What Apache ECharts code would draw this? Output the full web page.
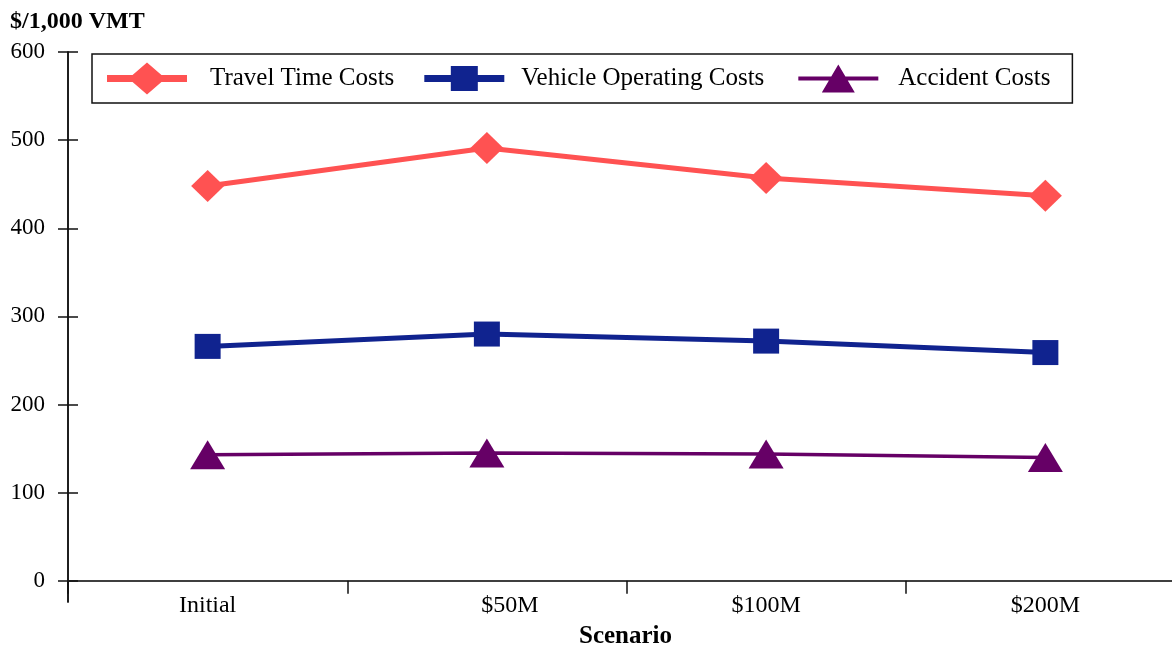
<!DOCTYPE html>
<html>
<head>
<meta charset="utf-8">
<script src="https://cdn.jsdelivr.net/npm/echarts@6/dist/echarts.min.js"></script>
<style>
  html, body { margin: 0; padding: 0; background: #fff; }
  #chart { width: 1172px; height: 647px; }
</style>
</head>
<body>
<div id="chart"></div>
<script>
// Cost per 1,000 vehicle-miles travelled, by funding scenario
const scenarios = ['Initial', '$50M', '$100M', '$200M'];
const travelTimeCosts = [448, 491, 457, 437];
const vehicleOperatingCosts = [266, 280, 272, 259];
const accidentCosts = [143, 145, 144, 140];
const yTickValues = [0, 100, 200, 300, 400, 500, 600];
const seriesNames = ['Travel Time Costs', 'Vehicle Operating Costs', 'Accident Costs'];

const SERIF = '"Liberation Serif", "DejaVu Serif", serif';
const AXIS_COLOR = '#111';

// Legend icons: a line with the series marker on it, drawn in an 80x32 box
const legendIcons = [
  'path://M0 12.5L80 12.5L80 19.5L0 19.5Z M21.5 16L40 0L58.5 16L40 32Z',
  'path://M0 0M80 32M0 12.5L80 12.5L80 19.5L0 19.5Z M26.5 3.5L53.5 3.5L53.5 28.5L26.5 28.5Z',
  'path://M0 0M80 32M0 14L80 14L80 18L0 18Z M40 2L56.5 30L23.5 30Z'
];
// space before and after each legend text
const legendTextPads = [[0, 4, 0, 18], [0, 8, 0, 12], [0, 2, 0, 15]];

const yAxisBase = {
  type: 'value',
  position: 'left',
  min: -24,
  max: 600,
  splitLine: { show: false },
  axisLine: { show: true, lineStyle: { color: AXIS_COLOR, width: 1.5 } }
};

const chart = echarts.init(document.getElementById('chart'), null, { renderer: 'canvas' });

chart.setOption({
  animation: false,
  backgroundColor: '#fff',
  title: [
    {
      text: '$/1,000 VMT',
      left: 5,
      top: 5,
      textStyle: { fontFamily: SERIF, fontWeight: 'bold', fontSize: 24, color: '#000' }
    },
    {
      text: 'Scenario',
      left: 574,
      top: 619,
      textStyle: { fontFamily: SERIF, fontWeight: 'bold', fontSize: 25, color: '#000' }
    }
  ],
  legend: {
    left: 92,
    top: 54,
    orient: 'horizontal',
    padding: [8.5, 20, 8.5, 15],
    itemGap: 26,
    itemWidth: 80,
    itemHeight: 32,
    borderColor: '#111',
    borderWidth: 1.5,
    itemStyle: { borderWidth: 0 },
    textStyle: { fontFamily: SERIF, fontSize: 25, color: '#000' },
    data: seriesNames.map((name, i) => ({
      name: name,
      icon: legendIcons[i],
      textStyle: { padding: legendTextPads[i], backgroundColor: 'transparent' }
    }))
  },
  grid: { left: 68, top: 52, right: -13, height: 550, containLabel: false, outerBoundsMode: 'none' },
  xAxis: [
    {
      type: 'category',
      data: scenarios.map(s => s === '$50M'
        ? { value: s, textStyle: { padding: [0, 0, 0, 46] } }
        : s),
      boundaryGap: true,
      axisLine: { show: true, onZero: true, onZeroAxisIndex: 0, lineStyle: { color: '#333', width: 1.5 } },
      axisTick: { show: true, inside: false, length: 13, lineStyle: { color: AXIS_COLOR, width: 1.5 } },
      axisLabel: { margin: -8, fontFamily: SERIF, fontSize: 24, color: '#000' }
    },
    {
      type: 'category',
      data: scenarios,
      boundaryGap: true,
      axisLine: { show: true, onZero: true, onZeroAxisIndex: 1, lineStyle: { color: '#333', width: 1.5 } },
      axisTick: { show: true, inside: true, length: 6, lineStyle: { color: AXIS_COLOR, width: 1.5 } },
      axisLabel: { show: false }
    }
  ],
  yAxis: [
    Object.assign({}, yAxisBase, {
      axisTick: { show: true, inside: false, length: 10, customValues: yTickValues,
                  lineStyle: { color: AXIS_COLOR, width: 1.5 } },
      axisLabel: { show: true, customValues: yTickValues, margin: 23,
                   fontFamily: SERIF, fontSize: 23, color: '#000' }
    }),
    Object.assign({}, yAxisBase, {
      axisTick: { show: true, inside: true, length: 10, customValues: yTickValues,
                  lineStyle: { color: AXIS_COLOR, width: 1.5 } },
      axisLabel: { show: false }
    })
  ],
  series: [
    {
      name: seriesNames[0],
      type: 'line',
      data: travelTimeCosts,
      symbol: 'diamond',
      symbolSize: [33, 32],
      lineStyle: { color: '#ff5252', width: 5 },
      itemStyle: { color: '#ff5252', borderWidth: 0 }
    },
    {
      name: seriesNames[1],
      type: 'line',
      data: vehicleOperatingCosts,
      symbol: 'rect',
      symbolSize: [26, 25],
      lineStyle: { color: '#10238f', width: 5 },
      itemStyle: { color: '#10238f', borderWidth: 0 }
    },
    {
      name: seriesNames[2],
      type: 'line',
      data: accidentCosts,
      symbol: 'triangle',
      symbolSize: [35, 29],
      lineStyle: { color: '#660066', width: 3.5 },
      itemStyle: { color: '#660066', borderWidth: 0 }
    }
  ]
});
</script>
</body>
</html>
